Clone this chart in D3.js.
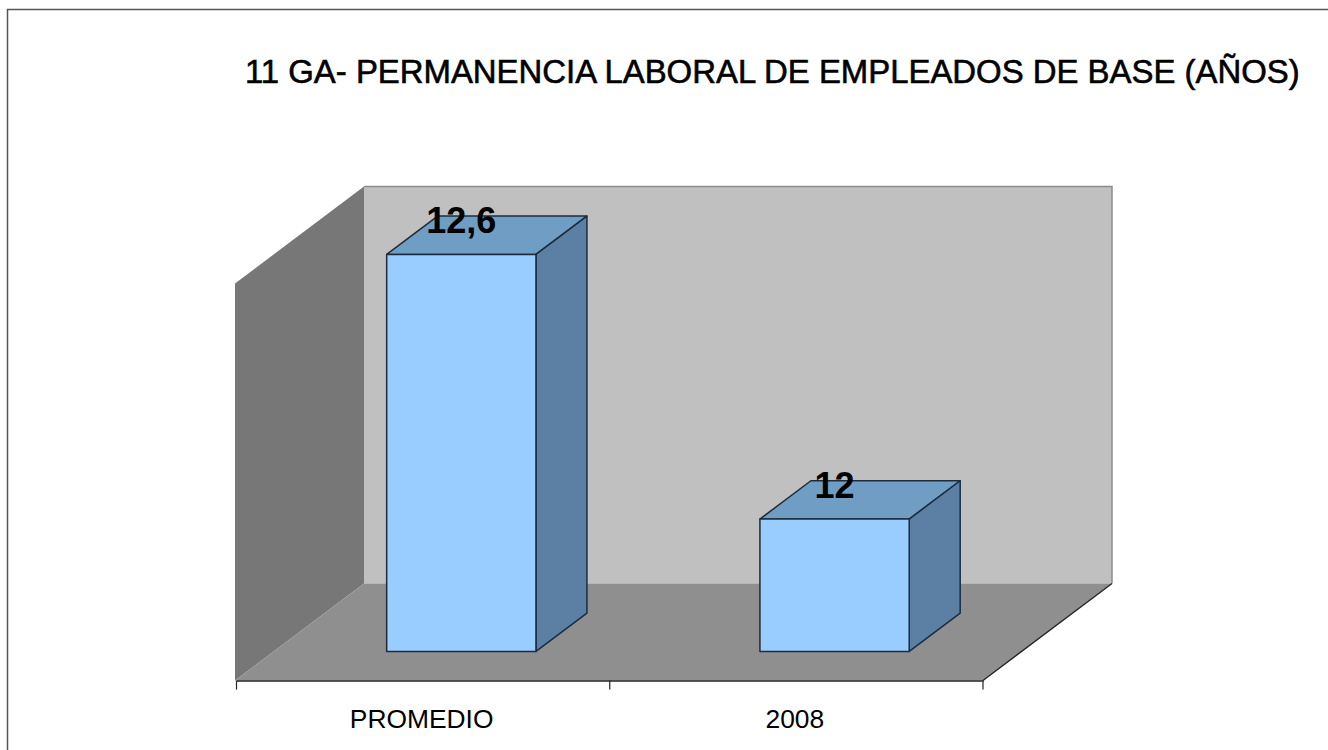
<!DOCTYPE html>
<html>
<head>
<meta charset="utf-8">
<script src="https://cdn.jsdelivr.net/npm/d3@7"></script>
<style>
  body { margin: 0; background: #fff; }
  svg { display: block; }
  text { font-family: "Liberation Sans", Arial, sans-serif; fill: #000; }
</style>
</head>
<body>
<script>
var titleText = "11 GA- PERMANENCIA LABORAL DE EMPLEADOS DE BASE (AÑOS)";
var categories = ["PROMEDIO", "2008"];
var values = [12.6, 12];
var valueLabels = ["12,6", "12"];
var valueDomain = [11.7, 12.6];

var width = 1328, height = 750;

// floor front edge and how far back the wall sits (oblique 3d look)
var floorY = 680.5, depthX = 129, depthY = 97;
var left = 236.5, right = 983;
var wallLeft = 235; // walls start a bit left of the first tick

var x = d3.scaleBand().domain(categories).range([left, right]);
var y = d3.scaleLinear().domain(valueDomain).range([floorY - depthY, floorY - depthY - 397]);

// z goes 0 = front of floor, 1 = back wall
function px(xv, z) { return xv + depthX * z; }
function py(yv, z) { return yv + depthY * (1 - z); }
function poly(pts) { return pts.map(function(p) { return p.join(","); }).join(" "); }

var svg = d3.select("body").append("svg")
    .attr("width", width)
    .attr("height", height);

// outer frame, only top and left show
svg.append("path")
    .attr("d", "M7.5," + height + "V9.5H" + width)
    .attr("fill", "none")
    .attr("stroke", "#555")
    .attr("stroke-width", 1.5);

var yBase = y(valueDomain[0]), yTop = y(valueDomain[1]);

// left wall
svg.append("polygon")
    .attr("points", poly([
      [px(wallLeft, 0), py(yTop, 0)], [px(wallLeft, 1), py(yTop, 1)],
      [px(wallLeft, 1), py(yBase, 1)], [px(wallLeft, 0), py(yBase, 0)]
    ]))
    .attr("fill", "#777777");

// back wall
svg.append("polygon")
    .attr("points", poly([
      [px(wallLeft, 1), py(yTop, 1)], [px(right, 1), py(yTop, 1)],
      [px(right, 1), py(yBase, 1)], [px(wallLeft, 1), py(yBase, 1)]
    ]))
    .attr("fill", "#c0c0c0");
svg.append("path")
    .attr("d", "M" + px(wallLeft, 1) + "," + py(yTop, 1) + "H" + px(right, 1) + "V" + py(yBase, 1))
    .attr("fill", "none")
    .attr("stroke", "#8c8c8c")
    .attr("stroke-width", 1.5);

// floor
svg.append("polygon")
    .attr("points", poly([
      [px(wallLeft, 0), py(yBase, 0)], [px(wallLeft, 1), py(yBase, 1)],
      [px(right, 1), py(yBase, 1)], [px(right, 0), py(yBase, 0)]
    ]))
    .attr("fill", "#8f8f8f");
svg.append("line")
    .attr("x1", px(right, 0)).attr("y1", py(yBase, 0))
    .attr("x2", px(right, 1)).attr("y2", py(yBase, 1))
    .attr("stroke", "#222").attr("stroke-width", 1.3);

// bars sit in the middle of the floor depth
var zFront = 0.3, zBack = 0.695;
var barW = x.bandwidth() * 0.4;

var bars = svg.selectAll(".bar")
    .data(categories)
    .enter().append("g")
    .attr("class", "bar")
    .attr("stroke", "#1c2c3c")
    .attr("stroke-width", 1.5)
    .attr("stroke-linejoin", "round");

function barBox(d, i) {
  var x0 = x(d) + (x.bandwidth() - barW) / 2 - 0.5;
  return {x0: x0, x1: x0 + barW, top: y(values[i]), base: yBase};
}

bars.append("polygon") // top face
    .attr("fill", "#6f9dc3")
    .attr("points", function(d, i) {
      var b = barBox(d, i);
      return poly([
        [px(b.x0, zFront), py(b.top, zFront)], [px(b.x0, zBack), py(b.top, zBack)],
        [px(b.x1, zBack), py(b.top, zBack)], [px(b.x1, zFront), py(b.top, zFront)]
      ]);
    });

bars.append("polygon") // side face
    .attr("fill", "#5b80a3")
    .attr("points", function(d, i) {
      var b = barBox(d, i);
      return poly([
        [px(b.x1, zFront), py(b.top, zFront)], [px(b.x1, zBack), py(b.top, zBack)],
        [px(b.x1, zBack), py(b.base, zBack)], [px(b.x1, zFront), py(b.base, zFront)]
      ]);
    });

bars.append("polygon") // front face
    .attr("fill", "#99ccff")
    .attr("points", function(d, i) {
      var b = barBox(d, i);
      return poly([
        [px(b.x0, zFront), py(b.top, zFront)], [px(b.x1, zFront), py(b.top, zFront)],
        [px(b.x1, zFront), py(b.base, zFront)], [px(b.x0, zFront), py(b.base, zFront)]
      ]);
    });

svg.selectAll(".value")
    .data(categories)
    .enter().append("text")
    .attr("class", "value")
    .attr("x", function(d, i) { var b = barBox(d, i); return px((b.x0 + b.x1) / 2, zFront); })
    .attr("y", function(d, i) { return py(y(values[i]), zFront) - 21; })
    .attr("text-anchor", "middle")
    .style("font-size", "36px")
    .style("font-weight", "bold")
    .text(function(d, i) { return valueLabels[i]; });

// axis: labels from the band scale, ticks on the band edges
var axis = svg.append("g")
    .attr("transform", "translate(0," + floorY + ")")
    .call(d3.axisBottom(x).tickSize(0).tickPadding(29));
axis.select(".domain").attr("stroke", "#222").attr("stroke-width", 1.5);
axis.selectAll("text")
    .attr("dx", -1.5)
    .style("font-size", "26.4px")
    .style("font-family", '"Liberation Sans", Arial, sans-serif');

var edges = categories.map(function(d) { return x(d); }).concat([right]);
axis.selectAll(".edge")
    .data(edges)
    .enter().append("line")
    .attr("class", "edge")
    .attr("x1", function(d) { return d; })
    .attr("x2", function(d) { return d; })
    .attr("y1", 0)
    .attr("y2", 9)
    .attr("stroke", "#222")
    .attr("stroke-width", 1.2);

svg.append("text")
    .attr("x", 245)
    .attr("y", 83)
    .style("font-size", "32.9px")
    .style("stroke", "#000")
    .style("stroke-width", 0.6)
    .text(titleText);
</script>
</body>
</html>
